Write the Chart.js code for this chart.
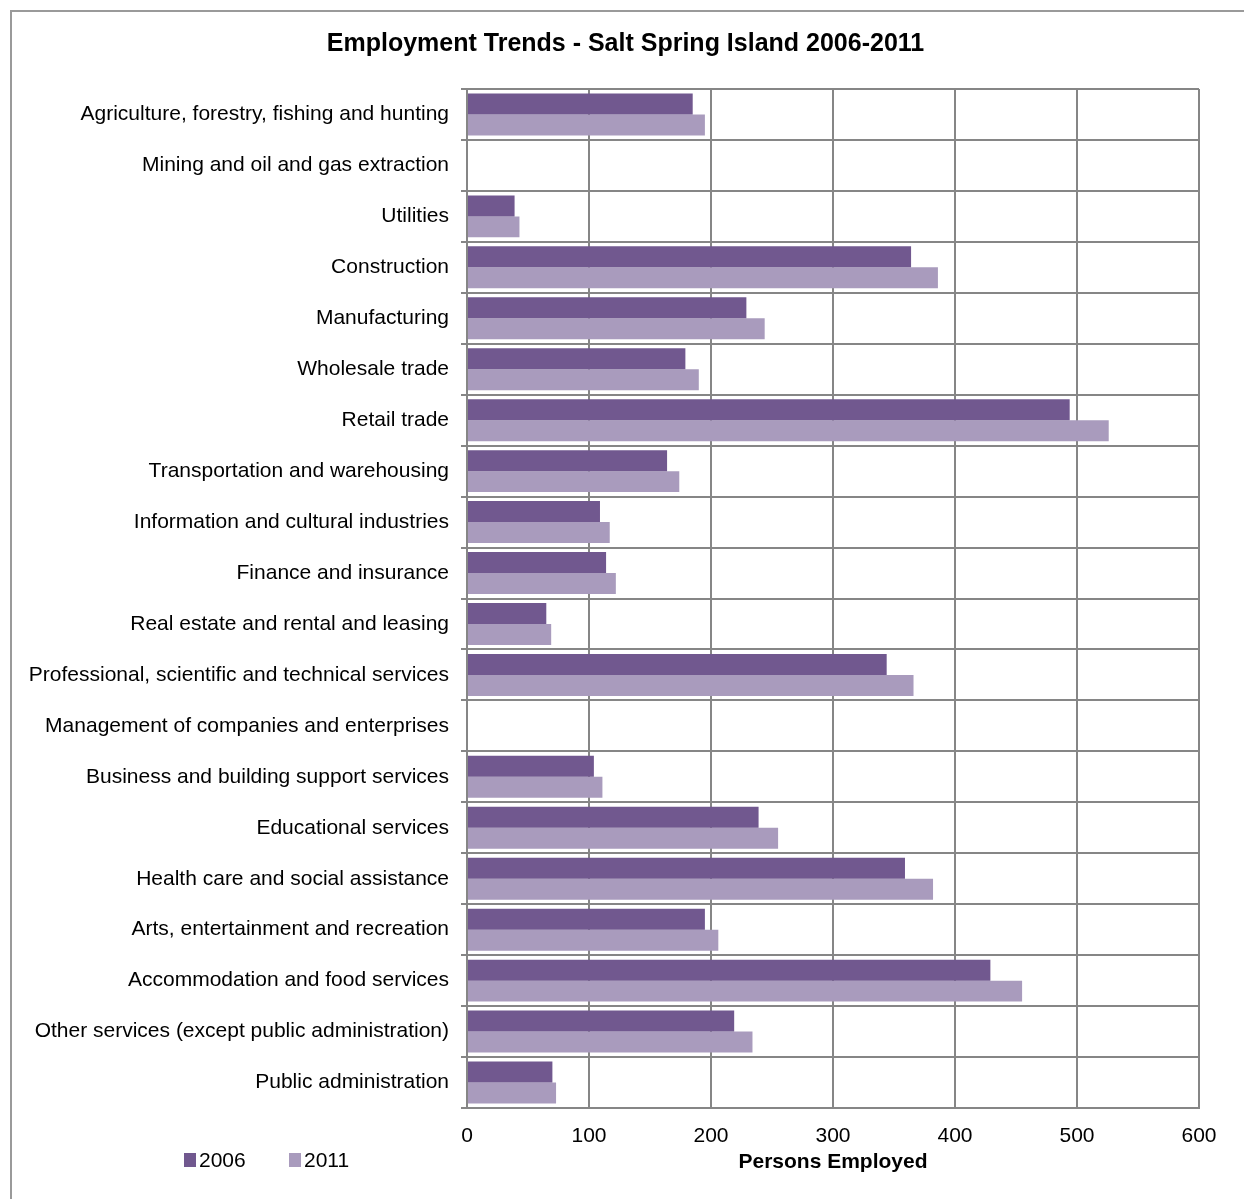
<!DOCTYPE html>
<html>
<head>
<meta charset="utf-8">
<title>Employment Trends - Salt Spring Island 2006-2011</title>
<script src="https://cdn.jsdelivr.net/npm/chart.js@4.4.0/dist/chart.umd.min.js"></script>
<style>
  html, body { margin: 0; padding: 0; background: #fff; overflow: hidden; }
  #frame { position: absolute; left: 10px; top: 10px; width: 1300px; height: 1300px;
           border-left: 2px solid #9a9a9a; border-top: 2px solid #9a9a9a; }
  #chart { position: absolute; left: 0; top: 0; }
</style>
</head>
<body>
<div id="frame"></div>
<canvas id="chart" width="1244" height="1199"></canvas>
<script>
// industries, top to bottom
const industries = [
  "Agriculture, forestry, fishing and hunting",
  "Mining and oil and gas extraction",
  "Utilities",
  "Construction",
  "Manufacturing",
  "Wholesale trade",
  "Retail trade",
  "Transportation and warehousing",
  "Information and cultural industries",
  "Finance and insurance",
  "Real estate and rental and leasing",
  "Professional, scientific and technical services",
  "Management of companies and enterprises",
  "Business and building support services",
  "Educational services",
  "Health care and social assistance",
  "Arts, entertainment and recreation",
  "Accommodation and food services",
  "Other services (except public administration)",
  "Public administration"
];

// persons employed
const persons2006 = [185, 0, 39, 364, 229, 179, 494, 164, 109, 114, 65, 344, 0, 104, 239, 359, 195, 429, 219, 70];
const persons2011 = [195, 0, 43, 386, 244, 190, 526, 174, 117, 122, 69, 366, 0, 111, 255, 382, 206, 455, 234, 73];

const xTicks = [0, 100, 200, 300, 400, 500, 600];

const FONT = "'Liberation Sans', Arial, Helvetica, sans-serif";
const gridGray = "#868686";

// legend sits on the same line as the axis title, so it is drawn here
const bottomLegend = {
  id: "bottomLegend",
  afterLayout(chart) {
    // title in the original is centred a little right of the canvas centre
    if (chart.titleBlock) chart.titleBlock.left += 52;
  },
  afterDraw(chart) {
    const ctx = chart.ctx;
    const y = chart.chartArea.bottom + 52;
    let x = 184;
    ctx.save();
    ctx.font = "21px " + FONT;
    ctx.textBaseline = "middle";
    ctx.textAlign = "left";
    chart.data.datasets.forEach(ds => {
      ctx.fillStyle = ds.backgroundColor;
      ctx.fillRect(x, y - 7, 12, 14);
      ctx.fillStyle = "#000";
      ctx.fillText(ds.label, x + 15, y + 1);
      x += 105;
    });
    ctx.restore();
  }
};

const data = {
  labels: industries,
  datasets: [
    { label: "2006", data: persons2006, backgroundColor: "#71588F" },
    { label: "2011", data: persons2011, backgroundColor: "#A99BBD" }
  ]
};

const config = {
  type: "bar",
  data,
  plugins: [bottomLegend],
  options: {
    indexAxis: "y",
    responsive: false,
    animation: false,
    layout: { padding: { top: 10, right: 45, bottom: 24, left: 0 } },
    datasets: {
      bar: { categoryPercentage: 0.824, barPercentage: 1.0, borderWidth: 0 }
    },
    plugins: {
      legend: { display: false },
      tooltip: { enabled: false },
      title: {
        display: true,
        text: "Employment Trends - Salt Spring Island 2006-2011",
        color: "#000",
        font: { family: FONT, size: 25, weight: "bold" },
        padding: { top: 19, bottom: 30 }
      }
    },
    scales: {
      x: {
        min: 0,
        max: 600,
        afterBuildTicks(scale) {
          scale.ticks = xTicks.map(v => ({ value: v }));
        },
        grid: { color: gridGray, lineWidth: 2, drawTicks: false },
        border: { color: gridGray, width: 2 },
        ticks: { color: "#000", font: { family: FONT, size: 21 }, padding: 16 },
        title: {
          display: true,
          text: "Persons Employed",
          color: "#000",
          font: { family: FONT, size: 21, weight: "bold" },
          padding: { top: 2, bottom: 0 }
        },
        afterFit(scale) {
          scale.height = 67;
        }
      },
      y: {
        grid: { color: gridGray, lineWidth: 2, tickLength: 6, offset: true },
        border: { color: gridGray, width: 2 },
        ticks: { color: "#000", font: { family: FONT, size: 21 }, padding: 12, autoSkip: false },
        afterFit(scale) {
          scale.width = 467;
        }
      }
    }
  }
};

const myChart = new Chart(document.getElementById("chart"), config);
</script>
</body>
</html>
